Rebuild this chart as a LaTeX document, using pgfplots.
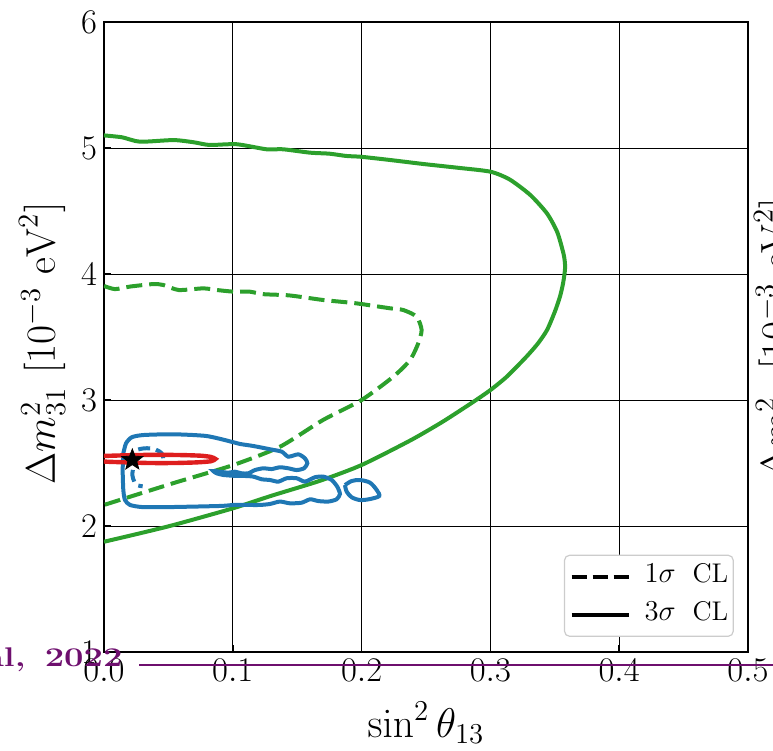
\documentclass[border=0pt]{standalone}
\usepackage{pgfplots}
\pgfplotsset{compat=1.18}
\usepackage{graphicx}
\definecolor{cgreen}{RGB}{44,160,44}
\definecolor{cblue}{RGB}{31,119,180}
\definecolor{cred}{RGB}{222,30,30}
\definecolor{cpurple}{RGB}{110,15,110}
\pgfdeclareplotmark{fstar}{%
  \pgfpathmoveto{\pgfpointpolar{90}{\pgfplotmarksize}}%
  \pgfpathlineto{\pgfpointpolar{126}{0.42\pgfplotmarksize}}%
  \pgfpathlineto{\pgfpointpolar{162}{\pgfplotmarksize}}%
  \pgfpathlineto{\pgfpointpolar{198}{0.42\pgfplotmarksize}}%
  \pgfpathlineto{\pgfpointpolar{234}{\pgfplotmarksize}}%
  \pgfpathlineto{\pgfpointpolar{270}{0.42\pgfplotmarksize}}%
  \pgfpathlineto{\pgfpointpolar{306}{\pgfplotmarksize}}%
  \pgfpathlineto{\pgfpointpolar{342}{0.42\pgfplotmarksize}}%
  \pgfpathlineto{\pgfpointpolar{18}{\pgfplotmarksize}}%
  \pgfpathlineto{\pgfpointpolar{54}{0.42\pgfplotmarksize}}%
  \pgfpathclose
  \pgfusepathqfillstroke}
\begin{document}
\begin{tikzpicture}
\useasboundingbox (0,0) rectangle (386.5pt,375.5pt);
\begin{axis}[
  at={(52pt,49.5pt)}, anchor=south west,
  width=322pt, height=315pt, scale only axis,
  xmin=0, xmax=0.5, ymin=1, ymax=6,
  xtick={0,0.1,0.2,0.3,0.4,0.5}, ytick={1,2,3,4,5,6},
  xticklabel style={/pgf/number format/.cd, fixed, fixed zerofill, precision=1},
  tick label style={font=\fontsize{18.5}{22}\selectfont},
  label style={font=\fontsize{22.5}{27}\selectfont},
  grid=major, major grid style={black, line width=0.5pt},
  tick align=inside, xtick pos=left, ytick pos=left,
  major tick length=3.5pt, every tick/.style={black, line width=0.8pt},
  axis line style={line width=0.9pt},
  xlabel={$\sin^2\theta_{13}$},
  ylabel={$\Delta m^2_{31}\ [10^{-3}\ \mathrm{eV}^2]$},
  xlabel style={at={(axis description cs:0.5,-0.135)}, anchor=base},
  ylabel style={at={(axis description cs:-0.096,0.49)}, anchor=center},
  legend image code/.code={\draw[#1] (0pt,0pt) -- (28.5pt,0pt);},
  legend style={at={(0.978,0.024)}, anchor=south east, draw=black!20, line width=0.6pt,
    rounded corners=2.5pt, fill=white, font=\fontsize{13.5}{16}\selectfont,
    nodes={inner sep=0pt, text depth=0.2em, text height=0.75em},
    column sep=7pt, row sep=9.5pt, inner xsep=2.5pt, inner ysep=6pt},
  legend cell align=left,
]
\addlegendimage{black, line width=2pt, dash pattern=on 7.5pt off 3pt}
\addlegendentry{$1\sigma$\hspace{0.3em} CL}
\addlegendimage{black, line width=2pt}
\addlegendentry{$3\sigma$\hspace{0.3em} CL}

% green 3 sigma
\addplot[forget plot, cgreen, line width=2pt, smooth, tension=0.4] coordinates {
(0.000,5.100)(0.014,5.085)(0.028,5.050)(0.054,5.063)(0.070,5.045)(0.082,5.024)
(0.103,5.030)(0.126,4.990)(0.139,4.990)(0.160,4.963)(0.175,4.955)(0.188,4.937)
(0.200,4.930)(0.222,4.905)(0.248,4.873)(0.274,4.844)(0.300,4.812)(0.315,4.750)
(0.331,4.627)(0.344,4.480)(0.352,4.330)(0.357,4.150)(0.358,4.050)(0.3565,3.930)
(0.354,3.820)(0.350,3.700)(0.344,3.556)(0.337,3.450)(0.328,3.344)(0.3127,3.185)
(0.300,3.079)(0.287,2.987)(0.263,2.828)
(0.238,2.680)(0.200,2.484)(0.168,2.360)(0.130,2.240)(0.100,2.140)(0.054,2.008)
(0.025,1.935)(0.000,1.875)};
% green 1 sigma
\addplot[forget plot, cgreen, line width=2pt, dash pattern=on 8pt off 3.5pt, smooth, tension=0.4] coordinates {
(0.000,3.905)(0.0085,3.880)(0.020,3.900)(0.038,3.920)(0.046,3.913)(0.058,3.873)
(0.077,3.886)(0.0875,3.873)(0.1004,3.860)(0.113,3.860)(0.1237,3.840)(0.144,3.830)
(0.170,3.794)(0.196,3.767)(0.222,3.728)(0.2324,3.714)(0.2428,3.661)(0.2466,3.556)
(0.244,3.450)(0.2376,3.317)(0.2246,3.185)(0.200,3.000)(0.170,2.841)(0.1366,2.629)
(0.1004,2.484)(0.0538,2.340)(0.000,2.167)};
% blue 3 sigma
\addplot[forget plot, cblue, line width=2pt, smooth, tension=0.4] coordinates {
(0.0150,2.577)(0.0171,2.656)(0.0215,2.704)(0.0305,2.722)(0.0538,2.728)(0.0797,2.714)
(0.1004,2.665)(0.1056,2.651)(0.1159,2.635)(0.1289,2.609)(0.1380,2.590)(0.1431,2.550)
(0.1509,2.569)(0.1560,2.537)(0.1579,2.498)(0.1553,2.458)(0.1496,2.444)(0.1431,2.458)
(0.1366,2.466)(0.1302,2.452)(0.1237,2.458)(0.1172,2.444)(0.1120,2.418)(0.1069,2.418)
(0.1017,2.431)(0.0965,2.423)(0.0901,2.431)(0.0849,2.436)(0.0875,2.418)(0.0926,2.405)
(0.1030,2.397)(0.1095,2.397)(0.1159,2.392)(0.1224,2.371)(0.1289,2.365)(0.1353,2.352)
(0.1418,2.379)(0.1496,2.379)(0.1560,2.352)(0.1638,2.387)(0.1703,2.392)(0.1768,2.365)
(0.1811,2.312)(0.1832,2.254)(0.1806,2.212)(0.1742,2.194)(0.1664,2.198)(0.1600,2.212)
(0.1535,2.185)(0.1444,2.180)(0.1366,2.194)(0.1289,2.175)(0.1211,2.167)(0.1108,2.167)
(0.1004,2.167)(0.0901,2.159)(0.0500,2.150)(0.0300,2.150)(0.0202,2.167)(0.0163,2.206)
(0.0150,2.286)(0.0145,2.444)(0.0150,2.577)};
\addplot[forget plot, cblue, line width=2pt, smooth, tension=0.5] coordinates {
(0.1871,2.325)(0.1923,2.357)(0.1988,2.365)(0.2065,2.344)(0.2117,2.286)(0.2137,2.238)
(0.2065,2.214)(0.1988,2.206)(0.1923,2.228)(0.1884,2.273)(0.1871,2.325)};
% blue 1 sigma
\addplot[forget plot, cblue, line width=2pt, dash pattern=on 6pt off 3pt, smooth, tension=0.5] coordinates {
(0.046,2.538)(0.0448,2.577)(0.0396,2.609)(0.0318,2.617)(0.0241,2.598)(0.0215,2.550)
(0.0215,2.500)(0.0227,2.471)(0.0220,2.405)(0.0235,2.352)(0.0254,2.325)(0.0300,2.315)};
% red
\addplot[forget plot, cred, line width=2.2pt, smooth, tension=0.4] coordinates {
(0.000,2.556)(0.020,2.562)(0.040,2.565)(0.060,2.563)(0.075,2.558)(0.083,2.548)
(0.0865,2.532)(0.083,2.514)(0.072,2.505)(0.055,2.500)(0.035,2.500)(0.015,2.506)
(0.000,2.512)(-0.010,2.534)(0.000,2.556)};
% best fit
\addplot[forget plot, only marks, mark=fstar, mark size=5.5pt, black] coordinates {(0.022,2.524)};
\end{axis}
\node[rotate=90, font=\fontsize{22.5}{27}\selectfont] at (388.5pt,206pt) {$\Delta m^2_{31}\ [10^{-3}\ \mathrm{eV}^2]$};
\draw[cpurple, line width=1.3pt] (69.5pt,43pt) -- (386.5pt,43pt);
\node[anchor=base east, inner sep=0pt, text=cpurple, font=\fontsize{13.5}{16}\selectfont\bfseries] at (61.5pt,42pt) {\scalebox{1.28}[1]{2022}};
\node[anchor=base east, inner sep=0pt, text=cpurple, font=\fontsize{13.5}{16}\selectfont\bfseries] at (13pt,42pt) {\scalebox{1.28}[1]{al,}};
\end{tikzpicture}
\end{document}
